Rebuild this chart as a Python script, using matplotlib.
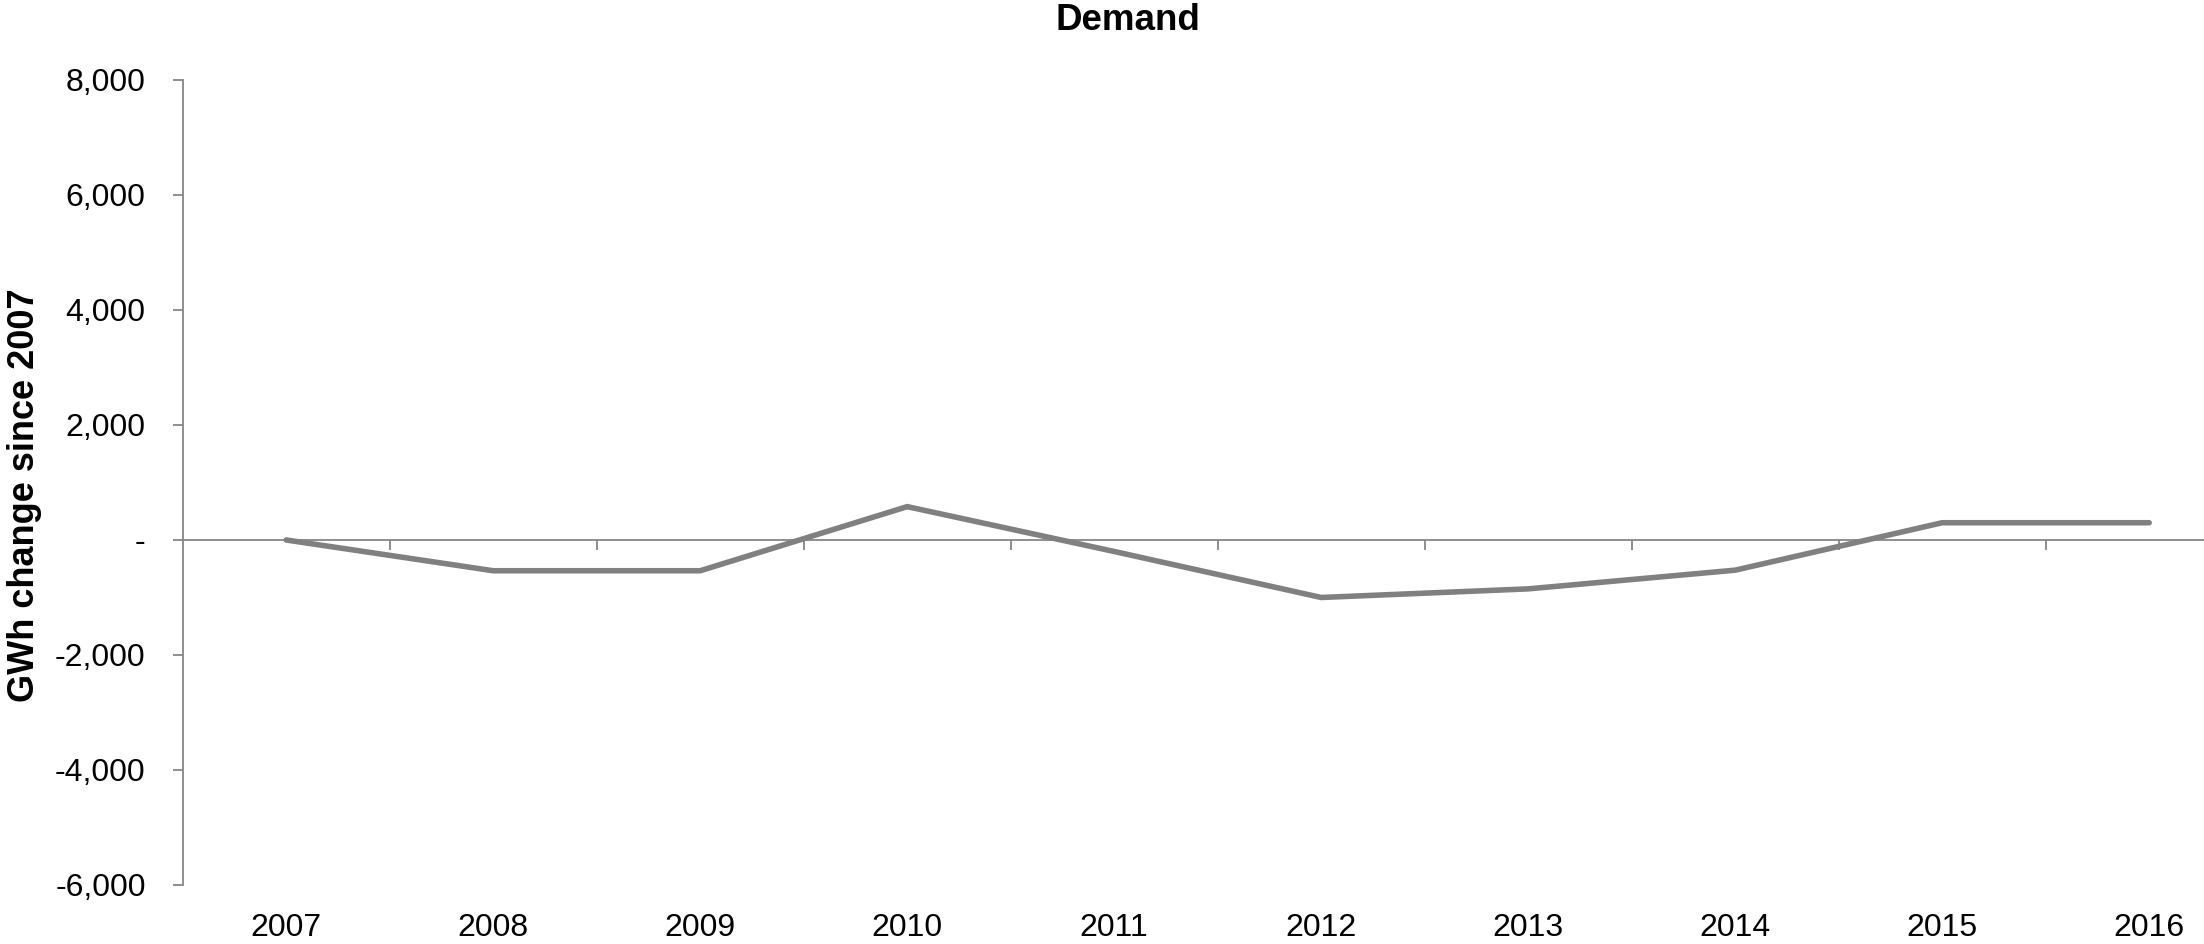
import matplotlib.pyplot as plt
from matplotlib.ticker import FuncFormatter

plt.rcParams['font.family'] = ['Liberation Sans', 'DejaVu Sans']

years = ["2007", "2008", "2009", "2010", "2011", "2012", "2013", "2014", "2015", "2016"]
demand_change = [0, -535, -535, 580, -200, -1000, -850, -525, 300, 300]
y_ticks = [-6000, -4000, -2000, 0, 2000, 4000, 6000, 8000]

axis_grey = "#868686"
line_grey = "#808080"


def fmt_gwh(v, pos):
    if v == 0:
        return "-"
    return "{:,.0f}".format(v)


fig = plt.figure(figsize=(22.04, 9.44), dpi=100)
ax = fig.add_axes([0.0829, 0.0625, 0.9392, 0.8528])

x = list(range(len(years)))
ax.plot(x, demand_change, color=line_grey, linewidth=4, solid_capstyle="round",
        solid_joinstyle="miter", zorder=3)

ax.set_xlim(-0.5, len(years) - 0.5)
ax.set_ylim(-6000, 8000)
ax.set_yticks(y_ticks)
ax.yaxis.set_major_formatter(FuncFormatter(fmt_gwh))
ax.tick_params(axis="y", direction="out", length=7.2, width=1.3, color=axis_grey,
               labelsize=23, pad=19.5)

# category axis sits on zero, tick marks between categories
ax.spines["bottom"].set_position(("data", 0))
ax.spines["bottom"].set_color(axis_grey)
ax.spines["bottom"].set_linewidth(1.3)
ax.spines["left"].set_color(axis_grey)
ax.spines["left"].set_linewidth(1.3)
ax.spines["top"].set_visible(False)
ax.spines["right"].set_visible(False)
ax.set_xticks([i + 0.5 for i in x[:-1]])
ax.set_xticklabels([])
ax.tick_params(axis="x", direction="out", length=7.5, width=1.3, color=axis_grey)

# year labels at the bottom of the plot area
ax_lab = ax.twiny()
ax_lab.set_xlim(ax.get_xlim())
ax_lab.xaxis.set_ticks_position("bottom")
ax_lab.xaxis.set_label_position("bottom")
ax_lab.set_xticks(x)
ax_lab.set_xticklabels(years)
ax_lab.tick_params(axis="x", length=0, labelsize=23, pad=20)
for s in ax_lab.spines.values():
    s.set_visible(False)

ax.set_ylabel("GWh change since 2007", fontsize=26, fontweight="bold")
ax.yaxis.set_label_coords(-0.068, 0.4845)

fig.text(1128 / 2204, 1 - 21 / 944, "Demand", ha="center", va="center",
         fontsize=26.5, fontweight="bold")

fig.savefig("out.png", dpi=100)
